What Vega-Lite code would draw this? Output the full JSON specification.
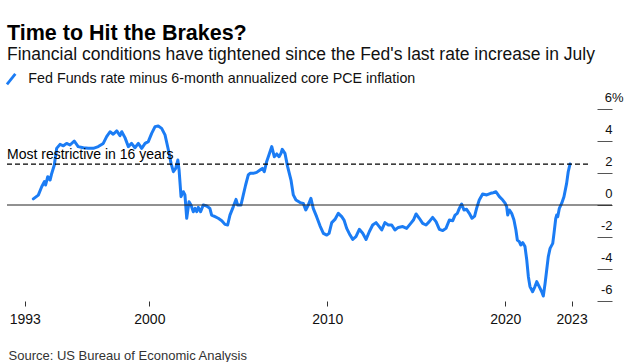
{
  "$schema": "https://vega.github.io/schema/vega-lite/v6.json",
  "width": 605,
  "height": 208,
  "autosize": "none",
  "padding": {"left": 7, "top": 93, "right": 15, "bottom": 61},
  "background": "white",
  "config": {"view": {"stroke": null}, "font": "Liberation Sans", "axis": {"labelOverlap": false}},
  "title": {
    "text": "Time to Hit the Brakes?",
    "subtitle": "Financial conditions have tightened since the Fed's last rate increase in July",
    "anchor": "start",
    "frame": "group",
    "font": "Liberation Sans",
    "fontSize": 21.5,
    "fontWeight": "bold",
    "color": "#000000",
    "subtitleFont": "Liberation Sans",
    "subtitleFontSize": 17.5,
    "subtitleColor": "#111111",
    "subtitlePadding": 1,
    "offset": 9
  },
  "layer": [
    {
      "data": {"values": [
        {"t":1993.48,"v":0.38},{"t":1993.76,"v":0.62},{"t":1993.95,"v":1.14},{"t":1994.1,"v":1.46},{"t":1994.17,"v":1.25},{"t":1994.29,"v":1.77},{"t":1994.42,"v":1.56},{"t":1994.5,"v":1.92},{"t":1994.66,"v":2.5},{"t":1994.79,"v":3.54},{"t":1994.98,"v":3.79},
        {"t":1995.17,"v":3.7},{"t":1995.35,"v":3.85},{"t":1995.54,"v":3.75},{"t":1995.78,"v":4.0},{"t":1996.0,"v":3.65},{"t":1996.29,"v":3.58},{"t":1996.57,"v":3.54},{"t":1996.85,"v":3.54},{"t":1997.13,"v":3.65},{"t":1997.41,"v":3.85},{"t":1997.6,"v":4.27},{"t":1997.79,"v":4.58},{"t":1997.97,"v":4.42},
        {"t":1998.17,"v":4.63},{"t":1998.35,"v":4.33},{"t":1998.45,"v":4.58},{"t":1998.63,"v":4.21},{"t":1998.82,"v":3.65},{"t":1999.0,"v":3.85},{"t":1999.19,"v":3.58},{"t":1999.38,"v":3.85},{"t":1999.57,"v":3.54},{"t":1999.76,"v":3.85},{"t":1999.94,"v":3.96},
        {"t":2000.13,"v":4.48},{"t":2000.32,"v":4.9},{"t":2000.5,"v":4.94},{"t":2000.69,"v":4.79},{"t":2000.88,"v":4.38},{"t":2001.07,"v":3.44},{"t":2001.22,"v":2.6},{"t":2001.35,"v":2.08},{"t":2001.48,"v":2.29},{"t":2001.6,"v":2.81},{"t":2001.67,"v":2.19},{"t":2001.78,"v":0.52},{"t":2001.91,"v":0.83},
        {"t":2002.0,"v":0.63},{"t":2002.1,"v":-0.83},{"t":2002.23,"v":0.21},{"t":2002.34,"v":0.0},{"t":2002.47,"v":-0.42},{"t":2002.57,"v":-0.21},{"t":2002.66,"v":-0.42},{"t":2002.75,"v":-0.15},{"t":2002.88,"v":-0.42},{"t":2003.03,"v":0.0},{"t":2003.22,"v":-0.06},{"t":2003.4,"v":-0.21},{"t":2003.5,"v":-0.63},{"t":2003.69,"v":-0.73},{"t":2003.87,"v":-0.83},
        {"t":2004.07,"v":-0.98},{"t":2004.25,"v":-1.21},{"t":2004.4,"v":-1.25},{"t":2004.53,"v":-0.63},{"t":2004.72,"v":-0.1},{"t":2004.87,"v":0.35},{"t":2004.96,"v":0.0},{"t":2005.15,"v":0.0},{"t":2005.28,"v":0.63},{"t":2005.41,"v":1.25},{"t":2005.56,"v":1.88},{"t":2005.66,"v":1.98},{"t":2005.84,"v":1.98},
        {"t":2006.03,"v":2.04},{"t":2006.22,"v":2.19},{"t":2006.35,"v":2.29},{"t":2006.46,"v":2.08},{"t":2006.59,"v":2.71},{"t":2006.72,"v":3.13},{"t":2006.88,"v":3.65},{"t":2007.02,"v":3.02},{"t":2007.16,"v":3.19},{"t":2007.29,"v":3.02},{"t":2007.4,"v":3.23},{"t":2007.47,"v":3.48},{"t":2007.62,"v":3.23},{"t":2007.77,"v":2.4},{"t":2007.96,"v":1.56},
        {"t":2008.09,"v":0.63},{"t":2008.24,"v":0.31},{"t":2008.47,"v":0.15},{"t":2008.65,"v":0.1},{"t":2008.79,"v":-0.31},{"t":2008.93,"v":0.0},{"t":2009.08,"v":0.42},{"t":2009.21,"v":-0.21},{"t":2009.4,"v":-0.73},{"t":2009.59,"v":-1.3},{"t":2009.78,"v":-1.77},{"t":2009.97,"v":-1.88},
        {"t":2010.1,"v":-1.77},{"t":2010.25,"v":-1.1},{"t":2010.43,"v":-0.9},{"t":2010.62,"v":-0.52},{"t":2010.81,"v":-0.73},{"t":2010.94,"v":-0.94},{"t":2011.09,"v":-1.46},{"t":2011.28,"v":-1.88},{"t":2011.43,"v":-2.15},{"t":2011.61,"v":-1.98},{"t":2011.8,"v":-1.52},{"t":2011.99,"v":-1.77},
        {"t":2012.18,"v":-2.15},{"t":2012.36,"v":-1.67},{"t":2012.55,"v":-1.25},{"t":2012.74,"v":-1.1},{"t":2012.92,"v":-1.35},{"t":2013.06,"v":-1.56},{"t":2013.24,"v":-1.1},{"t":2013.43,"v":-1.25},{"t":2013.62,"v":-1.25},{"t":2013.8,"v":-1.56},{"t":2013.99,"v":-1.4},
        {"t":2014.24,"v":-1.35},{"t":2014.46,"v":-1.46},{"t":2014.69,"v":-1.15},{"t":2014.84,"v":-0.94},{"t":2014.99,"v":-0.56},{"t":2015.17,"v":-0.83},{"t":2015.36,"v":-1.15},{"t":2015.55,"v":-1.25},{"t":2015.73,"v":-1.04},{"t":2015.92,"v":-0.77},
        {"t":2016.11,"v":-1.04},{"t":2016.3,"v":-1.52},{"t":2016.49,"v":-1.6},{"t":2016.67,"v":-1.46},{"t":2016.86,"v":-0.94},{"t":2017.05,"v":-0.98},{"t":2017.18,"v":-0.63},{"t":2017.31,"v":-0.52},{"t":2017.42,"v":-0.21},{"t":2017.55,"v":0.06},{"t":2017.68,"v":-0.31},{"t":2017.83,"v":-0.27},{"t":2017.98,"v":-0.52},
        {"t":2018.13,"v":-0.83},{"t":2018.28,"v":-0.69},{"t":2018.39,"v":-0.21},{"t":2018.54,"v":0.31},{"t":2018.73,"v":0.69},{"t":2018.96,"v":0.63},{"t":2019.18,"v":0.73},{"t":2019.33,"v":0.77},{"t":2019.48,"v":0.83},{"t":2019.67,"v":0.52},{"t":2019.86,"v":0.31},
        {"t":2020.0,"v":0.1},{"t":2020.08,"v":-0.1},{"t":2020.14,"v":-0.63},{"t":2020.23,"v":-0.31},{"t":2020.36,"v":-0.52},{"t":2020.49,"v":-0.94},{"t":2020.6,"v":-1.56},{"t":2020.68,"v":-2.19},{"t":2020.79,"v":-2.29},{"t":2020.87,"v":-2.5},{"t":2020.98,"v":-2.35},
        {"t":2021.11,"v":-2.6},{"t":2021.21,"v":-3.44},{"t":2021.3,"v":-4.48},{"t":2021.39,"v":-5.1},{"t":2021.54,"v":-5.42},{"t":2021.67,"v":-5.1},{"t":2021.77,"v":-4.79},{"t":2021.91,"v":-5.1},{"t":2022.05,"v":-5.42},{"t":2022.14,"v":-5.69},
        {"t":2022.24,"v":-4.9},{"t":2022.33,"v":-4.06},{"t":2022.42,"v":-3.23},{"t":2022.52,"v":-2.71},{"t":2022.67,"v":-2.4},{"t":2022.74,"v":-1.77},{"t":2022.84,"v":-0.83},{"t":2022.89,"v":-0.63},{"t":2022.95,"v":-0.73},
        {"t":2023.04,"v":-0.21},{"t":2023.17,"v":0.1},{"t":2023.3,"v":0.52},{"t":2023.45,"v":1.35},{"t":2023.54,"v":2.08},{"t":2023.64,"v":2.56}
      ]},
      "mark": {"type": "line", "strokeWidth": 3, "strokeJoin": "round", "strokeCap": "round"},
      "encoding": {
        "x": {
          "field": "t",
          "type": "quantitative",
          "title": "Source: US Bureau of Economic Analysis",
          "scale": {"domain": [1992, 2026], "nice": false, "zero": false},
          "axis": {
            "values": [1993, 2000, 2010, 2020, 2023.73],
            "tickCount": 20,
            "labelExpr": "datum.value > 2023 ? '2023' : format(datum.value, 'd')",
            "grid": false,
            "domain": false,
            "tickSize": 5,
            "tickColor": "#333333",
            "labelFont": "Liberation Sans",
            "labelFontSize": 14,
            "labelColor": "#111111",
            "labelPadding": 6,
            "labelOverlap": false,
            "titleFont": "Liberation Sans",
            "titleFontSize": 13,
            "titleFontWeight": "normal",
            "titleColor": "#333333",
            "titleAnchor": "start",
            "titleAlign": "left",
            "titleBaseline": "alphabetic",
            "titleX": 1,
            "titleY": 58
          }
        },
        "y": {
          "field": "v",
          "type": "quantitative",
          "title": null,
          "scale": {"domain": [-6, 7], "nice": false, "zero": false},
          "axis": {
            "orient": "right",
            "offset": -15,
            "values": [-6, -4, -2, 0, 2, 4, 6],
            "tickCount": 20,
            "labelExpr": "datum.value == 6 ? '6%' : (datum.value < 0 ? '-' + format(-datum.value, 'd') : format(datum.value, 'd'))",
            "grid": false,
            "domain": false,
            "tickSize": 15,
            "tickColor": "#555555",
            "labelAlign": "right",
            "labelBaseline": "alphabetic",
            "labelOffset": -8,
            "labelOverlap": false,
            "labelPadding": {"condition": {"test": "datum.value == 6", "value": 11}, "value": 0},
            "labelFont": "Liberation Sans",
            "labelFontSize": 13,
            "labelColor": "#111111"
          }
        },
        "color": {
          "datum": "Fed Funds rate minus 6-month annualized core PCE inflation",
          "scale": {"range": ["#1b7cf4"]},
          "legend": {
            "orient": "none",
            "legendX": -3,
            "legendY": -21,
            "title": null,
            "padding": 0,
            "symbolType": "M-0.8,1L0.8,-1",
            "symbolSize": 110,
            "symbolStrokeWidth": 2.8,
            "symbolFillColor": "transparent",
            "labelFont": "Liberation Sans",
            "labelFontSize": 14.3,
            "labelColor": "#111111",
            "labelOffset": 10,
            "labelLimit": 600
          }
        }
      }
    },
    {
      "data": {"values": [{"level": 0}]},
      "mark": {"type": "rule", "color": "#222222", "strokeWidth": 1},
      "encoding": {"y": {"field": "level", "type": "quantitative"}}
    },
    {
      "data": {"values": [{"level": 2.55, "from": 1992, "to": 2024.76}]},
      "mark": {"type": "rule", "color": "#000000", "strokeDash": [5, 3], "strokeWidth": 1.2},
      "encoding": {
        "y": {"field": "level", "type": "quantitative"},
        "x": {"field": "from", "type": "quantitative"},
        "x2": {"field": "to"}
      }
    },
    {
      "data": {"values": [{"level": 2.55, "from": 1992, "label": "Most restrictive in 16 years"}]},
      "mark": {"type": "text", "align": "left", "baseline": "alphabetic", "dy": -5, "fontSize": 14, "color": "#000000", "font": "Liberation Sans"},
      "encoding": {
        "y": {"field": "level", "type": "quantitative"},
        "x": {"field": "from", "type": "quantitative"},
        "text": {"field": "label"}
      }
    }
  ]
}
